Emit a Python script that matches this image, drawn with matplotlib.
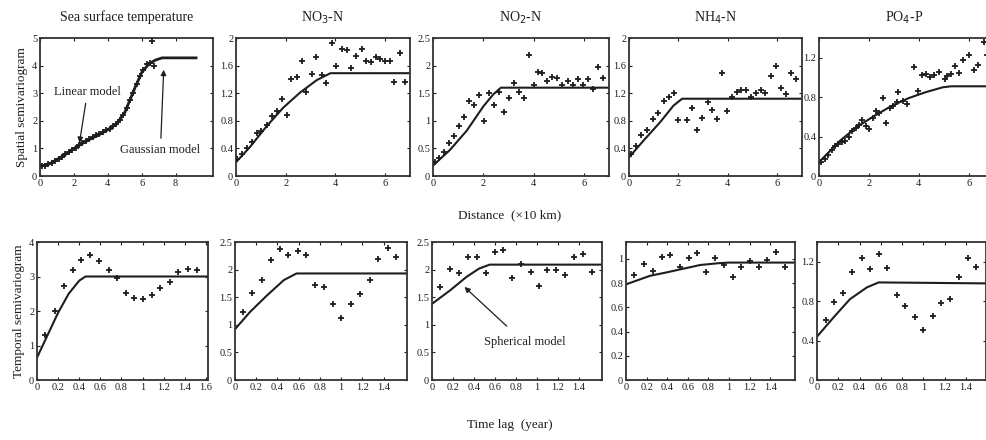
import matplotlib
matplotlib.use("Agg")
import matplotlib.pyplot as plt
import numpy as np

plt.rcParams['font.family'] = ['Liberation Serif', 'DejaVu Serif']

W, H = 986, 440

titles = ["Sea surface temperature", "NO$_3$-N", "NO$_2$-N", "NH$_4$-N", "PO$_4$-P"]

# ---------- Spatial semivariograms (top row) ----------
sp_x = [
    [0.1, 0.3, 0.5, 0.7, 0.9, 1.1, 1.3, 1.5, 1.7, 1.9, 2.1, 2.3, 2.5, 2.7, 2.9, 3.1, 3.3, 3.5,
     3.7, 3.9, 4.1, 4.3, 4.5, 4.7, 4.9, 5.1, 5.3, 5.5, 5.7, 5.9, 6.1, 6.3, 6.5, 6.7, 6.6],
    [0.05, 0.23, 0.43, 0.63, 0.83, 1.0, 1.23, 1.44, 1.64, 1.84, 2.04, 2.2, 2.44, 2.64, 2.82, 3.05,
     3.22, 3.45, 3.62, 3.85, 4.03, 4.25, 4.46, 4.62, 4.82, 5.06, 5.23, 5.42, 5.64, 5.8, 6.0, 6.2,
     6.36, 6.6, 6.8],
    [0.07, 0.24, 0.44, 0.64, 0.83, 1.03, 1.23, 1.43, 1.63, 1.83, 2.03, 2.23, 2.41, 2.61, 2.81, 3.01,
     3.21, 3.41, 3.61, 3.82, 4.02, 4.18, 4.35, 4.55, 4.75, 4.95, 5.15, 5.36, 5.56, 5.76, 5.96, 6.16,
     6.36, 6.56, 6.76],
    [0.1, 0.3, 0.5, 0.71, 0.96, 1.19, 1.4, 1.6, 1.81, 1.97, 2.36, 2.56, 2.77, 2.97, 3.18, 3.36, 3.56,
     3.77, 3.97, 4.16, 4.37, 4.55, 4.73, 4.93, 5.12, 5.33, 5.51, 5.75, 5.96, 6.15, 6.36, 6.55, 6.74],
    [0.1, 0.23, 0.37, 0.51, 0.64, 0.78, 0.92, 1.05, 1.19, 1.33, 1.47, 1.6, 1.74, 1.88, 2.01, 2.15,
     2.29, 2.42, 2.56, 2.7, 2.84, 2.97, 3.11, 3.18, 3.38, 3.52, 3.79, 3.97, 4.14, 4.3, 4.44, 4.62,
     4.82, 5.03, 5.12, 5.3, 5.44, 5.62, 5.78, 5.99, 6.19, 6.36, 6.6, 6.74],
]
sp_y = [
    [0.36, 0.38, 0.42, 0.48, 0.55, 0.62, 0.70, 0.78, 0.86, 0.95, 1.03, 1.12, 1.20, 1.28, 1.35, 1.40,
     1.50, 1.52, 1.60, 1.65, 1.72, 1.82, 1.88, 2.02, 2.22, 2.45, 2.75, 3.00, 3.35, 3.62, 3.85, 4.05,
     4.10, 4.00, 4.90],
    [0.24, 0.32, 0.40, 0.50, 0.62, 0.65, 0.74, 0.87, 0.94, 1.12, 0.88, 1.40, 1.44, 1.67, 1.22, 1.48,
     1.72, 1.47, 1.35, 1.93, 1.60, 1.84, 1.83, 1.57, 1.74, 1.84, 1.66, 1.65, 1.73, 1.69, 1.67, 1.66,
     1.36, 1.78, 1.36],
    [0.25, 0.33, 0.43, 0.60, 0.72, 0.91, 1.07, 1.35, 1.29, 1.47, 0.99, 1.50, 1.29, 1.53, 1.16, 1.42,
     1.69, 1.53, 1.42, 2.19, 1.65, 1.89, 1.86, 1.73, 1.79, 1.77, 1.64, 1.73, 1.65, 1.76, 1.65, 1.76,
     1.58, 1.98, 1.77],
    [0.32, 0.44, 0.59, 0.66, 0.83, 0.92, 1.09, 1.14, 1.20, 0.81, 0.81, 0.98, 0.66, 0.84, 1.07, 0.95,
     0.83, 1.50, 0.94, 1.14, 1.22, 1.24, 1.25, 1.14, 1.20, 1.24, 1.20, 1.45, 1.60, 1.27, 1.19, 1.50,
     1.41],
    [0.14, 0.17, 0.21, 0.26, 0.30, 0.32, 0.35, 0.36, 0.40, 0.46, 0.49, 0.52, 0.57, 0.51, 0.48, 0.59,
     0.66, 0.64, 0.79, 0.54, 0.69, 0.71, 0.75, 0.85, 0.76, 0.73, 1.11, 0.86, 1.02, 1.03, 1.00, 1.02,
     1.06, 0.98, 1.01, 1.03, 1.12, 1.05, 1.18, 1.23, 1.08, 1.13, 1.36, 1.23],
]
sp_mx = [
    [0, 0.5, 1, 1.5, 2, 2.5, 3, 3.5, 4, 4.5, 5, 5.3, 5.6, 6, 6.4, 6.8, 7.2, 9.2],
    [0, 0.56, 1.23, 1.9, 2.58, 3.25, 3.8, 7.0],
    [0, 0.67, 1.34, 2.0, 2.4, 2.7, 7.0],
    [0, 0.58, 1.26, 1.8, 2.15, 7.0],
    [0, 0.85, 1.53, 2.22, 2.9, 3.59, 4.27, 4.96, 5.3, 7.0],
]
sp_my = [
    [0.36, 0.42, 0.60, 0.78, 1.00, 1.18, 1.35, 1.50, 1.68, 1.88, 2.30, 2.75, 3.20, 3.75, 4.05, 4.20, 4.28, 4.28],
    [0.20, 0.42, 0.72, 0.99, 1.21, 1.39, 1.49, 1.49],
    [0.19, 0.47, 0.82, 1.26, 1.48, 1.60, 1.60],
    [0.27, 0.51, 0.78, 1.02, 1.12, 1.12],
    [0.14, 0.36, 0.50, 0.61, 0.71, 0.79, 0.85, 0.90, 0.91, 0.91],
]
sp_xlim = [(0, 10.2), (0, 7), (0, 7), (0, 7), (0, 6.85)]
sp_ylim = [(0, 5), (0, 2), (0, 2.5), (0, 2), (0, 1.4)]
sp_yticks = [[0, 1, 2, 3, 4, 5], [0, 0.4, 0.8, 1.2, 1.6, 2], [0, 0.5, 1, 1.5, 2, 2.5],
             [0, 0.4, 0.8, 1.2, 1.6, 2], [0, 0.4, 0.8, 1.2]]
sp_xticks = [[0, 2, 4, 6, 8], [0, 2, 4, 6], [0, 2, 4, 6], [0, 2, 4, 6], [0, 2, 4, 6]]

# ---------- Temporal semivariograms (bottom row) ----------
tm_x = [
    [0.08, 0.17, 0.26, 0.34, 0.42, 0.5, 0.59, 0.68, 0.76, 0.84, 0.92, 1.0, 1.09, 1.17, 1.26, 1.34, 1.43, 1.52],
    [0.08, 0.16, 0.25, 0.34, 0.42, 0.5, 0.59, 0.67, 0.75, 0.84, 0.92, 1.0, 1.09, 1.18, 1.27, 1.35, 1.44, 1.52],
    [0.08, 0.17, 0.26, 0.34, 0.43, 0.51, 0.6, 0.68, 0.76, 0.85, 0.94, 1.02, 1.1, 1.18, 1.27, 1.35, 1.44, 1.52],
    [0.08, 0.17, 0.26, 0.35, 0.43, 0.52, 0.61, 0.69, 0.78, 0.86, 0.95, 1.04, 1.12, 1.2, 1.29, 1.37, 1.46, 1.54],
    [0.08, 0.16, 0.24, 0.33, 0.42, 0.5, 0.58, 0.66, 0.75, 0.83, 0.92, 1.0, 1.09, 1.17, 1.25, 1.34, 1.42, 1.5],
]
tm_y = [
    [1.30, 2.00, 2.73, 3.20, 3.47, 3.63, 3.45, 3.20, 2.95, 2.53, 2.38, 2.35, 2.45, 2.68, 2.83, 3.13, 3.23, 3.20],
    [1.23, 1.58, 1.82, 2.18, 2.38, 2.26, 2.33, 2.26, 1.72, 1.69, 1.38, 1.13, 1.38, 1.55, 1.81, 2.20, 2.40, 2.23],
    [1.69, 2.01, 1.94, 2.22, 2.22, 1.94, 2.31, 2.35, 1.84, 2.11, 1.96, 1.70, 1.99, 2.00, 1.91, 2.22, 2.28, 1.95],
    [0.87, 0.96, 0.90, 1.02, 1.03, 0.93, 1.01, 1.05, 0.89, 1.01, 0.95, 0.85, 0.93, 0.98, 0.93, 0.99, 1.06, 0.93],
    [0.61, 0.79, 0.88, 1.10, 1.24, 1.13, 1.28, 1.14, 0.86, 0.75, 0.64, 0.51, 0.65, 0.78, 0.82, 1.05, 1.24, 1.15],
]
tm_mx = [
    [0, 0.1, 0.2, 0.3, 0.4, 0.46, 1.62],
    [0, 0.14, 0.3, 0.46, 0.58, 1.62],
    [0, 0.17, 0.33, 0.45, 0.55, 1.62],
    [0, 0.23, 0.4, 0.56, 0.72, 0.9, 1.0, 1.64],
    [0, 0.16, 0.31, 0.47, 0.58, 1.6],
]
tm_my = [
    [0.65, 1.30, 1.95, 2.50, 2.88, 3.00, 3.00],
    [0.92, 1.23, 1.53, 1.81, 1.93, 1.93],
    [1.38, 1.62, 1.87, 2.02, 2.09, 2.09],
    [0.79, 0.86, 0.89, 0.92, 0.95, 0.965, 0.97, 0.97],
    [0.44, 0.64, 0.82, 0.94, 0.99, 0.98],
]
tm_xlim = [(0, 1.62), (0, 1.62), (0, 1.62), (0, 1.64), (0, 1.59)]
tm_ylim = [(0, 4), (0, 2.5), (0, 2.5), (0, 1.14), (0, 1.4)]
tm_yticks = [[0, 1, 2, 3, 4], [0, 0.5, 1, 1.5, 2, 2.5], [0, 0.5, 1, 1.5, 2, 2.5],
             [0, 0.2, 0.4, 0.6, 0.8, 1], [0, 0.4, 0.8, 1.2]]
tm_xticks = [[0, 0.2, 0.4, 0.6, 0.8, 1, 1.2, 1.4, 1.6]] + [[0, 0.2, 0.4, 0.6, 0.8, 1, 1.2, 1.4]] * 4

# pixel boxes (left, right)
top_lr = [(40, 213), (236, 410), (433, 609), (629, 802), (819, 990)]
bot_lr = [(37, 208), (235, 407), (432, 602), (626, 795), (817, 986)]
top_tb = (38, 176)
bot_tb = (242, 380)

fig = plt.figure(figsize=(W / 100, H / 100), dpi=100)
INK = '#1e1e1e'


def fmt(v):
    return '%g' % v


def make_ax(lr, tb):
    l, r = lr
    t, b = tb
    ax = fig.add_axes([l / W, 1 - b / H, (r - l) / W, (b - t) / H])
    for sp in ax.spines.values():
        sp.set_linewidth(1.3)
        sp.set_color('#333333')
    ax.tick_params(direction='in', length=2.5, width=0.8, labelsize=7.5,
                   colors=INK, pad=2, top=True, right=True)
    return ax


MK = dict(linestyle='none', marker='+', ms=3.8, mew=1.3, color=INK, zorder=3)

for i in range(5):
    ax = make_ax(top_lr[i], top_tb)
    ax.plot(sp_mx[i], sp_my[i], color=INK, lw=1.5 if i else 2.0, zorder=2)
    ax.plot(sp_x[i], sp_y[i], **MK)
    ax.set_xlim(*sp_xlim[i])
    ax.set_ylim(*sp_ylim[i])
    ax.set_xticks(sp_xticks[i])
    ax.set_xticklabels([fmt(v) for v in sp_xticks[i]])
    ax.set_yticks(sp_yticks[i])
    ax.set_yticklabels([fmt(v) for v in sp_yticks[i]])
    ax.set_title(titles[i], fontsize=10, pad=12, color=INK)
    if i == 0:
        ax.set_ylabel("Spatial semivariogram", fontsize=9.5, color=INK, labelpad=3)
        ax.annotate("Linear model", xy=(2.3, 1.1), xytext=(2.8, 3.05),
                    fontsize=9, ha='center', va='center', color=INK,
                    arrowprops=dict(arrowstyle='-|>', color=INK, lw=0.9, mutation_scale=8))
        ax.annotate("Gaussian model", xy=(7.3, 3.95), xytext=(7.1, 0.95),
                    fontsize=9, ha='center', va='center', color=INK,
                    arrowprops=dict(arrowstyle='-|>', color=INK, lw=0.9, mutation_scale=8))

for i in range(5):
    ax = make_ax(bot_lr[i], bot_tb)
    ax.plot(tm_mx[i], tm_my[i], color=INK, lw=1.5, zorder=2)
    ax.plot(tm_x[i], tm_y[i], **MK)
    ax.set_xlim(*tm_xlim[i])
    ax.set_ylim(*tm_ylim[i])
    ax.set_xticks(tm_xticks[i])
    ax.set_xticklabels([fmt(v) for v in tm_xticks[i]])
    ax.set_yticks(tm_yticks[i])
    ax.set_yticklabels([fmt(v) for v in tm_yticks[i]])
    if i == 0:
        ax.set_ylabel("Temporal semivariogram", fontsize=9.5, color=INK, labelpad=3)
    if i == 2:
        ax.annotate("Spherical model", xy=(0.29, 1.72), xytext=(0.88, 0.68),
                    fontsize=9, ha='center', va='center', color=INK,
                    arrowprops=dict(arrowstyle='-|>', color=INK, lw=0.9, mutation_scale=8,
                                    shrinkA=8))

fig.text(510 / W, 1 - 215 / H, "Distance  (\u00d710 km)", fontsize=9.5, ha='center',
         va='center', color=INK)
fig.text(510 / W, 1 - 425 / H, "Time lag  (year)", fontsize=9.5, ha='center',
         va='center', color=INK)

fig.savefig("out.png", dpi=100, facecolor='white')
